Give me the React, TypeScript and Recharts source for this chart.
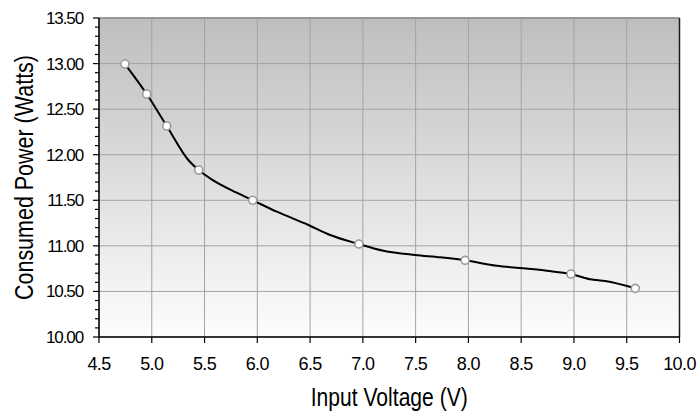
import React from 'react';
import { LineChart, Line, XAxis, YAxis, CartesianGrid, ReferenceLine } from 'recharts';

// curve (voltage, watts)
const curveVolts = [4.746, 4.952, 5.142, 5.346, 5.445, 5.552, 5.805, 5.957, 6.184, 6.484, 6.69, 6.962, 7.195, 7.495, 7.732, 7.969, 8.27, 8.522, 8.744, 8.971, 9.154, 9.296, 9.581];
const curveWatts = [12.995, 12.666, 12.315, 11.942, 11.832, 11.741, 11.583, 11.5, 11.375, 11.229, 11.119, 11.02, 10.947, 10.9, 10.874, 10.841, 10.782, 10.754, 10.727, 10.691, 10.633, 10.614, 10.534];

// measured points (circle markers)
const pointVolts = [4.746, 4.952, 5.142, 5.445, 5.957, 6.962, 7.969, 8.971, 9.581];
const pointWatts = [12.995, 12.666, 12.315, 11.832, 11.5, 11.02, 10.841, 10.691, 10.534];

const xTicks = [4.5, 5.0, 5.5, 6.0, 6.5, 7.0, 7.5, 8.0, 8.5, 9.0, 9.5, 10.0];
const yMajor = [10.0, 10.5, 11.0, 11.5, 12.0, 12.5, 13.0, 13.5];
const yAllTicks = [
  10.0, 10.1, 10.2, 10.3, 10.4, 10.5, 10.6, 10.7, 10.8, 10.9,
  11.0, 11.1, 11.2, 11.3, 11.4, 11.5, 11.6, 11.7, 11.8, 11.9,
  12.0, 12.1, 12.2, 12.3, 12.4, 12.5, 12.6, 12.7, 12.8, 12.9,
  13.0, 13.1, 13.2, 13.3, 13.4, 13.5,
];

const xTitle = 'Input Voltage (V)';
const yTitle = 'Consumed Power (Watts)';

const curveData = curveVolts.map((v, i) => ({ v, w: curveWatts[i] }));
const pointData = pointVolts.map((v, i) => ({ v, w: pointWatts[i] }));

const FONT = "'Liberation Sans', Arial, sans-serif";
const NARROW = "'Liberation Sans Narrow', 'Liberation Sans', Arial, sans-serif";
const TICK_SIZE = 6;
const TICK_MARGIN = 10;

const isMajor = (v: number) => yMajor.some((m) => Math.abs(m - v) < 1e-6);

const YTick = (props: any) => {
  const { x, y, payload } = props;
  const axisX = x + TICK_MARGIN + TICK_SIZE;
  const major = isMajor(payload.value);
  const len = major ? 6 : 4;
  return (
    <g>
      <line x1={axisX - len} x2={axisX} y1={y} y2={y} stroke="#000" strokeWidth={1.2} />
      {major && (
        <text
          x={x}
          y={y}
          dy="0.355em"
          textAnchor="end"
          fontFamily={FONT}
          fontSize={17}
          letterSpacing={-1.1}
          fill="#000"
        >
          {payload.value.toFixed(2)}
        </text>
      )}
    </g>
  );
};

const XTitle = ({ viewBox }: any) => (
  <text
    x={viewBox.x + viewBox.width / 2}
    y={viewBox.y + 69}
    textAnchor="middle"
    fontFamily={NARROW}
    fontSize={25}
    textLength={157}
    lengthAdjust="spacingAndGlyphs"
    fill="#000"
  >
    {xTitle}
  </text>
);

const YTitle = ({ viewBox }: any) => {
  const cx = viewBox.x + 33;
  const cy = viewBox.y + viewBox.height / 2;
  return (
    <text
      x={cx}
      y={cy}
      transform={`rotate(-90, ${cx}, ${cy})`}
      textAnchor="middle"
      fontFamily={NARROW}
      fontSize={25}
      textLength={245}
      lengthAdjust="spacingAndGlyphs"
      fill="#000"
    >
      {yTitle}
    </text>
  );
};

export default function App() {
  return (
    <div style={{ position: 'absolute', left: 0, top: 0, width: 697, height: 412, background: '#fff' }}>
      <LineChart width={697} height={412} margin={{ top: 18, right: 17.5, bottom: 0, left: 0 }}>
        <defs>
          <linearGradient id="plotBg" x1="0" y1="0" x2="0" y2="1">
            <stop offset="0%" stopColor="#bebebe" />
            <stop offset="100%" stopColor="#fdfdfd" />
          </linearGradient>
        </defs>
        <CartesianGrid
          fill="url(#plotBg)"
          fillOpacity={1}
          stroke="#a3a3a3"
          strokeWidth={1}
          horizontalValues={yMajor}
          verticalValues={xTicks}
        />
        <XAxis
          dataKey="v"
          type="number"
          domain={[4.5, 10]}
          ticks={xTicks}
          allowDataOverflow
          tickFormatter={(v: number) => v.toFixed(1)}
          tickSize={TICK_SIZE}
          tickMargin={14}
          height={75}
          axisLine={{ stroke: '#000', strokeWidth: 1.5 }}
          tickLine={{ stroke: '#000', strokeWidth: 1.2 }}
          tick={{ fill: '#000', fontSize: 18, fontFamily: FONT, letterSpacing: -0.6 }}
          label={<XTitle />}
        />
        <YAxis
          dataKey="w"
          type="number"
          domain={[10, 13.5]}
          ticks={yAllTicks}
          allowDataOverflow
          interval={0}
          width={99}
          tickSize={TICK_SIZE}
          tickMargin={TICK_MARGIN}
          tickLine={false}
          axisLine={{ stroke: '#000', strokeWidth: 1.5 }}
          tick={<YTick />}
          label={<YTitle />}
        />
        <ReferenceLine y={13.5} stroke="#8a8a8a" strokeWidth={1.5} />
        <ReferenceLine x={10} stroke="#1a1a1a" strokeWidth={1.5} />
        <Line
          data={curveData}
          dataKey="w"
          type="monotone"
          stroke="#000"
          strokeWidth={2}
          dot={false}
          activeDot={false}
          isAnimationActive={false}
        />
        <Line
          data={pointData}
          dataKey="w"
          type="linear"
          stroke="none"
          dot={{ r: 4, fill: '#fff', stroke: '#9a9a9a', strokeWidth: 1.6 }}
          activeDot={false}
          isAnimationActive={false}
        />
      </LineChart>
    </div>
  );
}
